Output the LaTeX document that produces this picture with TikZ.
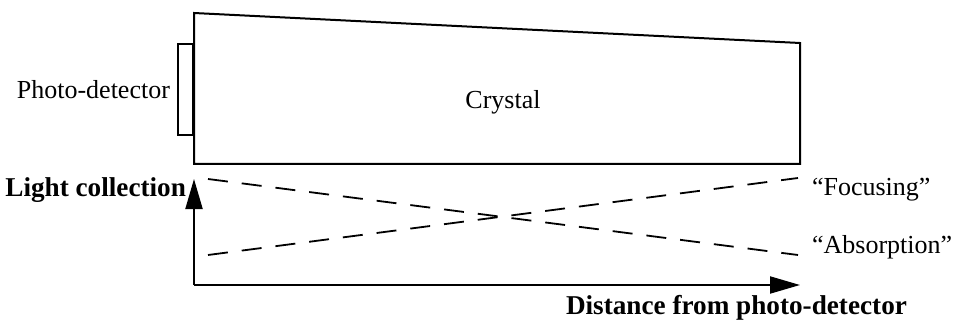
\documentclass[tikz,border=0pt]{standalone}
\usepackage{fontspec}
\setmainfont{Liberation Serif}
\usetikzlibrary{arrows.meta, positioning}

\begin{document}
\begin{tikzpicture}[
      x=0.5pt, y=-0.5pt,
      every node/.style={font=\fontsize{13}{15}\selectfont},
      outline/.style={line width=1pt, line join=miter},
      pdbox/.style={draw, line width=1pt, minimum width=7.5pt,
                    minimum height=45.5pt, inner sep=0pt},
      axis/.style={line width=1pt, -{Triangle[length=15pt, width=8.5pt]}},
      curve/.style={line width=0.9pt, dash pattern=on 10pt off 7pt},
      axislabel/.style={font=\fontsize{13.6}{16}\selectfont\bfseries}
    ]
    \useasboundingbox (0,0) rectangle (956,320);
    % crystal
    \coordinate (c1) at (194,13);
    \coordinate (c2) at (800,43);
    \coordinate (c3) at (800,164);
    \coordinate (c4) at (194,164);
    \draw[outline] (c1) -- (c2) -- (c3) -- (c4) -- cycle;
    \node (crystal) at (503,102) {Crystal};
    \node[pdbox, anchor=north east] (pd) at (194,43) {};
    \node[left=0pt of pd] (pdlabel) {Photo-detector};
    % axes
    \coordinate (origin) at (194,285);
    \coordinate (ytip)   at (194,179);
    \coordinate (xtip)   at (800,285);
    \draw[axis] (origin) -- (ytip);
    \draw[axis] (origin) -- (xtip);
    \node[axislabel, anchor=base east] (ylabel) at (193,197) {Light collection};
    \node[axislabel, anchor=base east] (xlabel) at (914,314) {Distance from photo-detector};
    % curves
    \coordinate (abs0) at (208,179);
    \coordinate (abs1) at (798,255);
    \coordinate (foc0) at (208,255);
    \coordinate (foc1) at (798,178);
    \draw[curve] (abs0) -- (abs1);
    \draw[curve] (foc0) -- (foc1);
    \node[anchor=base west] (foclabel) at (805,195) {``Focusing''};
    \node[anchor=base west] (abslabel) at (805,253) {``Absorption''};
  \end{tikzpicture}
\end{document}
